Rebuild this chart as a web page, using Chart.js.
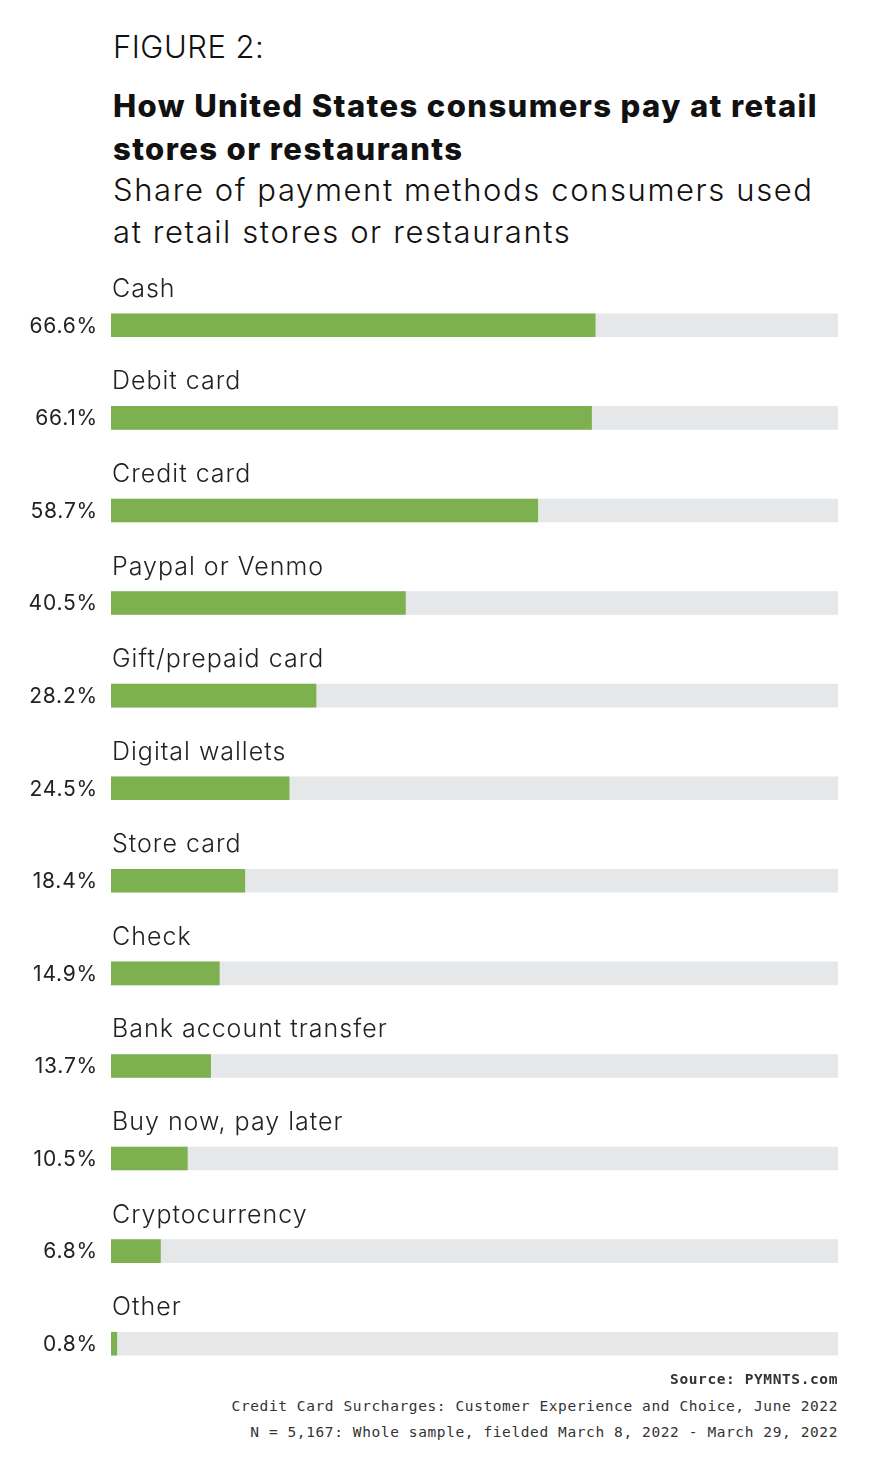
<!DOCTYPE html>
<html><head><meta charset="utf-8">
<script src="https://cdn.jsdelivr.net/npm/chart.js@4"></script>
<style>
body{margin:0;background:#fff;width:873px;height:1471px;position:relative;font-family:Inter,Roboto,sans-serif;color:#111;overflow:hidden}
.t{position:absolute;left:113px;white-space:nowrap}
#fig{top:28px;font-size:31px;font-weight:300;letter-spacing:0.5px}
#title{top:84px;font-size:31px;font-weight:800;line-height:43px;letter-spacing:1.4px}
#sub{top:169px;font-size:31px;font-weight:300;line-height:42px;letter-spacing:1.6px}
.f{position:absolute;right:35px;font-family:"DejaVu Sans Mono",monospace;font-size:14.5px;color:#333;white-space:nowrap;letter-spacing:0.6px}
#wrap{position:absolute;left:0;top:260px;width:873px;height:1130px}
</style></head><body>
<div class="t" id="fig">FIGURE 2:</div>
<div class="t" id="title">How United States consumers pay at retail<br>stores or restaurants</div>
<div class="t" id="sub">Share of payment methods consumers used<br>at retail stores or restaurants</div>
<div id="wrap"><canvas id="c"></canvas></div>
<div class="f" style="top:1371px;font-weight:bold">Source: PYMNTS.com</div>
<div class="f" style="top:1398px">Credit Card Surcharges: Customer Experience and Choice, June 2022</div>
<div class="f" style="top:1424px">N = 5,167: Whole sample, fielded March 8, 2022 - March 29, 2022</div>
<script>
const categories=["Cash","Debit card","Credit card","Paypal or Venmo","Gift/prepaid card","Digital wallets","Store card","Check","Bank account transfer","Buy now, pay later","Cryptocurrency","Other"];
const values=[66.6,66.1,58.7,40.5,28.2,24.5,18.4,14.9,13.7,10.5,6.8,0.8];
const track=categories.map(()=>100);
const labelsPlugin={id:'lbl',afterDatasetsDraw(chart){
  const ctx=chart.ctx,y=chart.scales.y,x=chart.scales.x;
  ctx.save();
  categories.forEach((c,i)=>{
    const cy=y.getPixelForValue(i);
    ctx.fillStyle='#222';ctx.textBaseline='middle';
    ctx.letterSpacing='1px';
    ctx.font='300 25px Inter, Roboto, sans-serif';ctx.textAlign='left';
    ctx.fillText(c,x.left+1,cy-36);
    ctx.letterSpacing='0.8px';
    ctx.font='400 21px Inter, Roboto, sans-serif';ctx.textAlign='right';
    ctx.fillText(values[i].toFixed(1)+'%',x.left-13,cy+1);
  });
  ctx.restore();}};
new Chart(document.getElementById('c'),{type:'bar',
 data:{labels:categories,datasets:[
  {data:values,backgroundColor:'#7db04f',barThickness:23,order:0},
  {data:track,backgroundColor:'#e6e7e9',barThickness:23,order:1}]},
 options:{indexAxis:'y',responsive:true,maintainAspectRatio:false,animation:false,
  layout:{padding:{left:111,right:35,top:19,bottom:0}},
  plugins:{legend:{display:false},tooltip:{enabled:false}},
  scales:{x:{display:false,min:0,max:100,stacked:false},y:{display:false,stacked:true}}},
 plugins:[labelsPlugin]});
</script></body></html>
